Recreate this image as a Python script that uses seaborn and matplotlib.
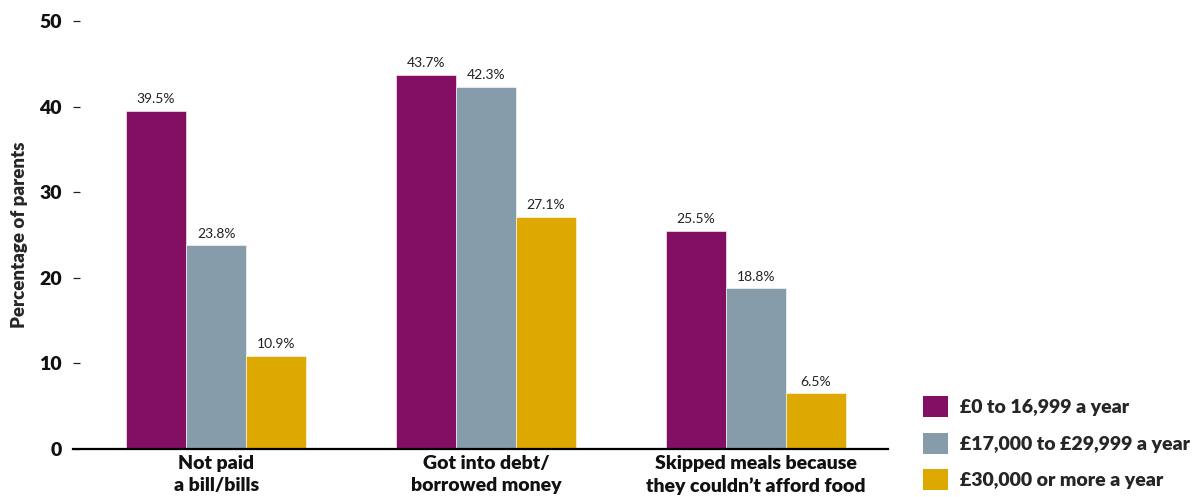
import matplotlib
matplotlib.use("Agg")
import matplotlib.pyplot as plt
from matplotlib.patches import Patch
import seaborn as sns
import pandas as pd

# Survey results: share of parents reporting each hardship, by household income
categories = ["Not paid\na bill/bills",
              "Got into debt/\nborrowed money",
              "Skipped meals because\nthey couldn\u2019t afford food"]
income_groups = ["\u00a30 to 16,999 a year",
                 "\u00a317,000 to \u00a329,999 a year",
                 "\u00a330,000 or more a year"]
low_income = [39.5, 43.7, 25.5]
mid_income = [23.8, 42.3, 18.8]
high_income = [10.9, 27.1, 6.5]
palette = ["#820F62", "#869CAB", "#DDA800"]

df = pd.DataFrame({
    "category": categories * 3,
    "income": [g for g in income_groups for _ in categories],
    "value": low_income + mid_income + high_income,
})

sns.set_theme(style="white")
plt.rcParams["font.family"] = ["Lato", "DejaVu Sans"]
HEAVY = "heavy"

fig = plt.figure(figsize=(11.95, 4.97), dpi=100)
ax = fig.add_axes([73 / 1195, 48 / 497, 815 / 1195, 428 / 497])

sns.barplot(data=df, x="category", y="value", hue="income",
            hue_order=income_groups, order=categories, palette=palette,
            width=2 / 3, saturation=1, ax=ax, legend=False,
            edgecolor="white", linewidth=0.4)

for cont in ax.containers:
    ax.bar_label(cont, labels=[f"{v:.1f}%" for v in cont.datavalues],
                 padding=4, fontsize=10, color="#222222")

ax.set_xlim(-0.53, 2.489)
ax.set_ylim(0, 50)
ax.set_yticks([0, 10, 20, 30, 40, 50])
ax.set_ylabel("Percentage of parents", fontsize=13.5, fontweight=HEAVY,
              labelpad=8)
ax.set_xlabel("")

for side in ["left", "top", "right"]:
    ax.spines[side].set_visible(False)
ax.spines["bottom"].set_color("black")
ax.spines["bottom"].set_linewidth(1.6)

ax.tick_params(axis="y", direction="in", length=5, width=0.9, color="#222222",
               pad=8, labelsize=14, left=True)
ax.tick_params(axis="x", length=0, pad=4, labelsize=14)
for lbl in ax.get_yticklabels() + ax.get_xticklabels():
    lbl.set_fontweight(HEAVY)
    lbl.set_color("#111111")
for lbl in ax.get_xticklabels():
    lbl.set_linespacing(1.4)

handles = [Patch(facecolor=c, edgecolor="none") for c in palette]
fig.legend(handles, income_groups, loc="upper left",
           bbox_to_anchor=(915 / 1195, 1 - 388 / 497), frameon=False,
           prop={"weight": HEAVY, "size": 14}, handlelength=1.3,
           handleheight=1.3, labelspacing=0.8, handletextpad=0.6,
           borderaxespad=0)

fig.savefig("out.png", dpi=100)
